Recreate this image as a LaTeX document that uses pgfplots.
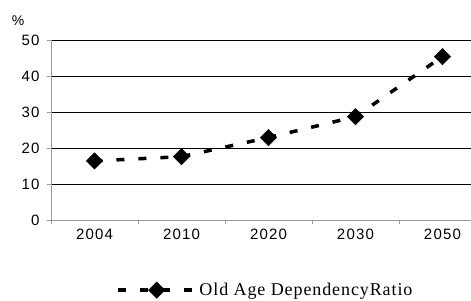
\documentclass[border=0pt]{standalone}
\usepackage{fontspec}
\setmainfont{Liberation Sans}
\newfontfamily\tickfont[LetterSpace=8]{Liberation Sans}
\newfontfamily\legfont[LetterSpace=5]{Liberation Serif}
\usepackage{pgfplots}
\pgfplotsset{compat=1.18}
\begin{document}
\begin{tikzpicture}
\begin{axis}[
  scale only axis,
  width=420pt, height=180pt,
  xmin=-0.5, xmax=4.328,
  ymin=0, ymax=50,
  ytick={0,10,...,50},
  xtick={-0.5,0.5,1.5,2.5,3.5},
  xticklabels={2004,2010,2020,2030,2050},
  xticklabel style={xshift=43.5pt, yshift=-1pt, font=\tickfont\fontsize{15}{17}\selectfont},
  yticklabel style={xshift=-4pt, font=\tickfont\fontsize{15}{17}\selectfont},
  /pgf/number format/assume math mode=true,
  axis x line*=bottom,
  axis y line*=left,
  axis line style={gray!80, line width=0.8pt},
  tick align=outside,
  major tick length=4pt,
  tick style={gray!80, line width=0.8pt},
  ymajorgrids=true,
  grid style={black, line width=0.8pt},
  clip=false,
  legend style={at={(0.51,-0.39)}, anchor=center, draw=none, fill=none,
    font=\legfont\fontsize{18}{20}\selectfont, inner sep=0pt},
  legend cell align=left,
  legend image code/.code={\draw[#1, mark repeat=2, mark phase=2] plot coordinates {(0pt,0pt) (39pt,0pt) (78pt,0pt)};},
]
\addplot[black, line width=3.5pt, dash pattern=on 8pt off 14pt,
  mark=square*, mark size=5.8pt, mark options={solid, rotate=45, fill=black, line width=0.4pt}]
  coordinates {(0,16.4) (1,17.6) (2,22.9) (3,28.7) (4,45.4)};
\addlegendentry{Old Age DependencyRatio}
\node[font=\fontsize{14}{16}\selectfont] at (rel axis cs:0,1) [xshift=-33pt, yshift=19pt] {\%};
\end{axis}
\pgfresetboundingbox
\path (-51pt,-80pt) rectangle (420pt,220pt);
\end{tikzpicture}
\end{document}
